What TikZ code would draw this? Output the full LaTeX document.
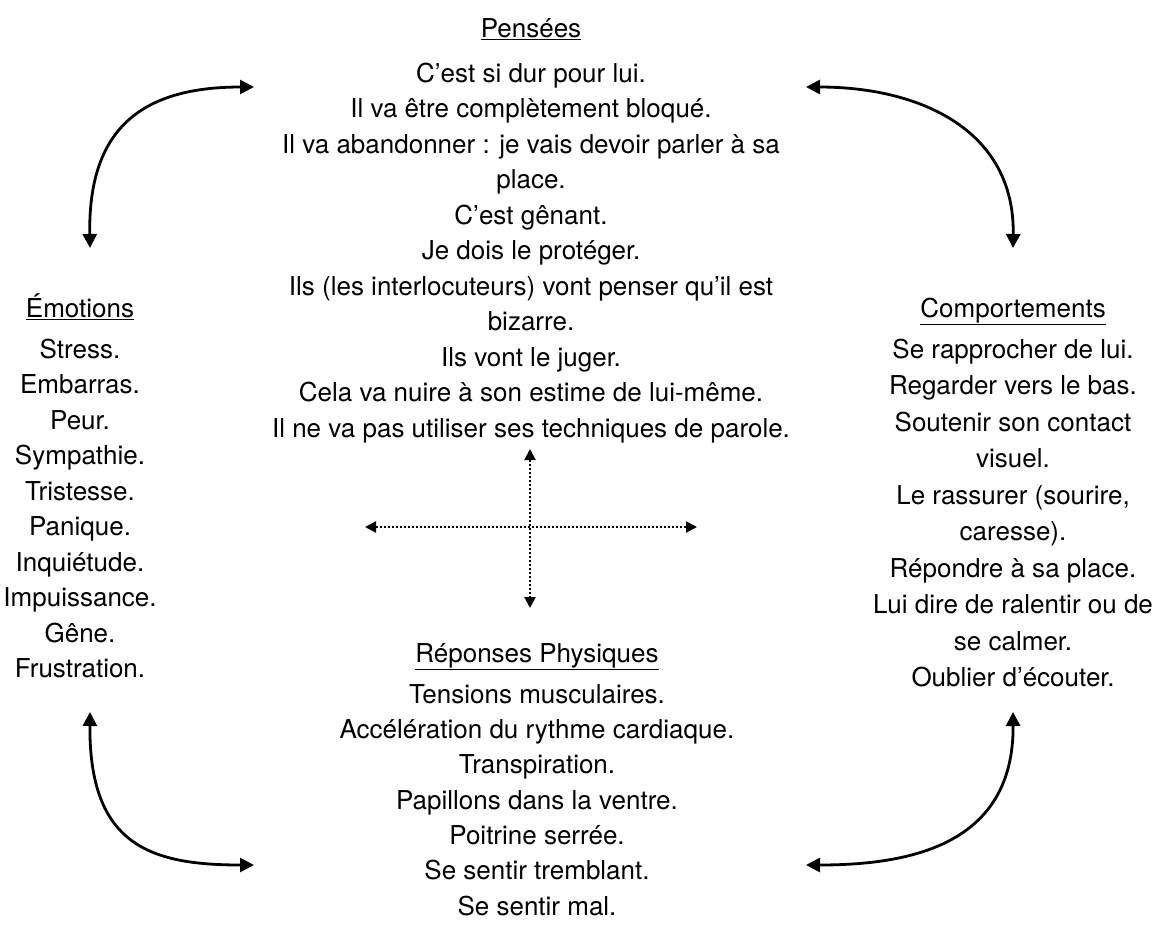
\documentclass[tikz,border=0pt]{standalone}
\usepackage{fontspec}
\setmainfont{TeX Gyre Heros}
\usetikzlibrary{arrows.meta}
\newcommand{\fl}{\rule{0pt}{20pt}}
\begin{document}
\begin{tikzpicture}[x=1pt,y=-1pt,
  txt/.style={align=center,font=\fontsize{26}{35.5}\selectfont,inner sep=0pt,anchor=north},
  ttl/.style={font=\fontsize{26}{35.5}\selectfont,inner sep=0pt,anchor=base},
  curv/.style={line width=2.8pt,{Triangle[length=14pt,width=14pt]}-{Triangle[length=14pt,width=14pt]}},
  dots/.style={line width=2pt,dotted,{Triangle[length=11pt,width=11pt]}-{Triangle[length=11pt,width=11pt]}}]
\useasboundingbox (0,0) rectangle (1170,932);
\node[ttl] (pt) at (531,37) {\underline{Pensées}};
\node[txt] (p) at (531,62) {\fl C’est si dur pour lui.\\Il va être complètement bloqué.\\Il va abandonner : je vais devoir parler à sa\\place.\\C’est gênant.\\Je dois le protéger.\\Ils (les interlocuteurs) vont penser qu’il est\\bizarre.\\Ils vont le juger.\\Cela va nuire à son estime de lui-même.\\Il ne va pas utiliser ses techniques de parole.};
\node[ttl] (et) at (80,317) {\underline{Émotions}};
\node[txt] (e) at (80,338) {\fl Stress.\\Embarras.\\Peur.\\Sympathie.\\Tristesse.\\Panique.\\Inquiétude.\\Impuissance.\\Gêne.\\Frustration.};
\node[ttl] (ct) at (1013,317) {\underline{Comportements}};
\node[txt,font=\fontsize{26}{36.5}\selectfont] (c) at (1013,338) {\fl Se rapprocher de lui.\\Regarder vers le bas.\\Soutenir son contact\\visuel.\\Le rassurer (sourire,\\caresse).\\Répondre à sa place.\\Lui dire de ralentir ou de\\se calmer.\\Oublier d’écouter.};
\node[ttl] (rt) at (537,662) {\underline{Réponses Physiques}};
\node[txt,font=\fontsize{26}{35.3}\selectfont] (r) at (537,683) {\fl Tensions musculaires.\\Accélération du rythme cardiaque.\\Transpiration.\\Papillons dans la ventre.\\Poitrine serrée.\\Se sentir tremblant.\\Se sentir mal.};
\coordinate (a1) at (90,248); \coordinate (a2) at (254,87);
\coordinate (b1) at (806,87); \coordinate (b2) at (1013,248);
\coordinate (c1) at (90,712); \coordinate (c2) at (254,865);
\coordinate (d1) at (806,865); \coordinate (d2) at (1013,712);
\draw[curv] (a1) .. controls (88,130) and (140,87) .. (a2);
\draw[curv] (b1) .. controls (920,87) and (1015,130) .. (b2);
\draw[curv] (c1) .. controls (89,845) and (150,865) .. (c2);
\draw[curv] (d1) .. controls (910,865) and (1014,845) .. (d2);
\coordinate (vt) at (530,449); \coordinate (vb) at (530,608);
\coordinate (hl) at (365,527); \coordinate (hr) at (697,527);
\draw[dots] (vt) -- (vb);
\draw[dots] (hl) -- (hr);
\end{tikzpicture}
\end{document}
